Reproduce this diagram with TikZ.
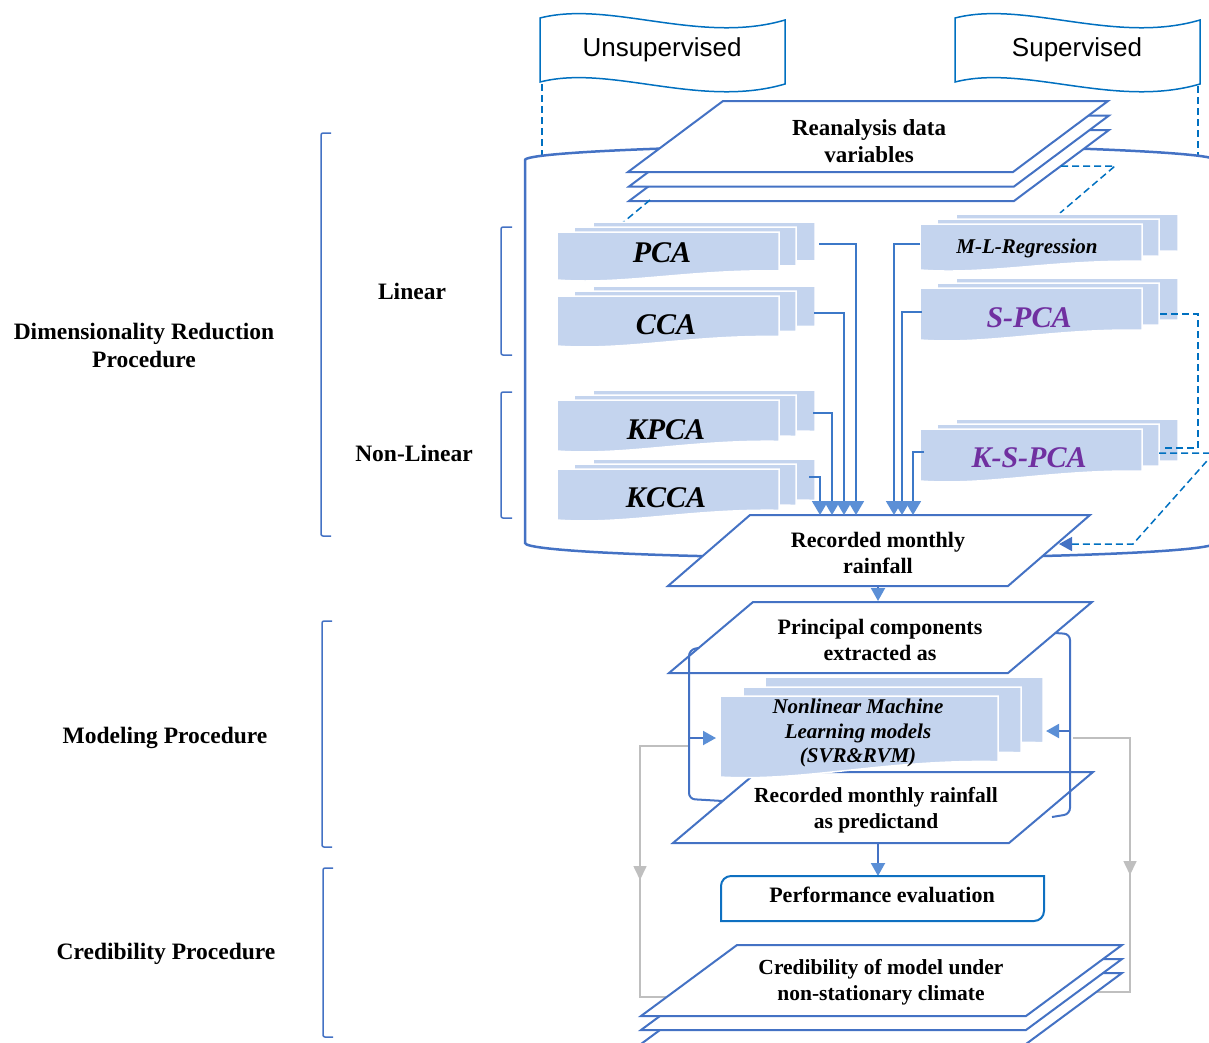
\documentclass[tikz,border=0pt]{standalone}
\usepackage{fontspec}
\setmainfont{Liberation Serif}
\newfontfamily\arialf{Liberation Sans}
\usetikzlibrary{arrows.meta}
\definecolor{pblue}{RGB}{68,114,196}
\definecolor{cblue}{RGB}{60,120,200}
\definecolor{ablue}{RGB}{91,143,214}
\definecolor{dblue}{RGB}{0,112,192}
\definecolor{docfill}{RGB}{196,212,238}
\definecolor{purp}{RGB}{112,48,160}
\definecolor{gline}{RGB}{191,191,191}
\tikzset{
  parastyle/.style={draw=pblue, fill=white, line width=2pt, line join=miter},
  docstyle/.style={fill=docfill, draw=white, line width=1.5pt},
  conn/.style={draw=cblue, line width=1.8pt, -{Triangle[length=14pt,width=16pt,color=ablue]}},
  connb/.style={draw=pblue, line width=2pt, -{Triangle[length=13pt,width=14pt,color=ablue]}},
  plainc/.style={draw=pblue, line width=2pt, rounded corners=6pt},
  dsh/.style={draw=dblue, line width=1.5pt, dash pattern=on 7pt off 4pt},
  gl/.style={draw=gline, line width=1.6pt},
  brk/.style={draw=pblue, line width=1.5pt, rounded corners=2pt},
  bannerst/.style={draw=dblue, fill=white, line width=1.5pt},
  bantext/.style={font=\arialf\fontsize{26}{30}\selectfont, inner sep=0},
  lbl/.style={font=\fontsize{23.5}{28}\selectfont\bfseries, align=center, inner sep=0},
  nt/.style={font=\fontsize{22}{25.5}\selectfont\bfseries, align=center, inner sep=0},
  nts/.style={font=\fontsize{21.5}{25.5}\selectfont\bfseries, align=center, inner sep=0},
  dt/.style={font=\fontsize{30}{34}\selectfont\bfseries\itshape, inner sep=0},
}
\newcommand\docsh[4]{\filldraw[docstyle] ({#1},{#2}) -- ({#1+#3},{#2}) -- ({#1+#3},{#2+0.81*#4}) .. controls ({#1+0.6*#3},{#2+0.78*#4}) and ({#1+0.3*#3},{#2+#4+5}) .. ({#1},{#2+#4}) -- cycle;}
\newcommand\docstack[4]{\docsh{#1+36}{#2-10}{#3}{#4}\docsh{#1+17}{#2-5}{#3}{#4}\docsh{#1}{#2}{#3}{#4}}
\newcommand\para[5]{\filldraw[parastyle] ({#1},{#2}) -- ({#1+#3},{#2}) -- ({#1+#3-#4},{#2+#5}) -- ({#1-#4},{#2+#5}) -- cycle;}
\begin{document}
\begin{tikzpicture}[x=1pt,y=-1pt]
\useasboundingbox (0,0) rectangle (1209,1042);
\begin{scope}
\clip (0,0) rectangle (1209,1042);
% banners
\filldraw[bannerst] (540,18) .. controls (610,0) and (700,45) .. (785,20) -- (785,84) .. controls (700,109) and (610,64) .. (540,82) -- cycle;
\node[bantext] (unsup) at (662,50) {Unsupervised};
\filldraw[bannerst] (955,18) .. controls (1025,0) and (1115,45) .. (1200,20) -- (1200,84) .. controls (1115,109) and (1025,64) .. (955,82) -- cycle;
\node[bantext] (sup) at (1077,50) {Supervised};
\coordinate (unsupB) at (542,84);
\coordinate (supB) at (1198,86);
\draw[dsh] (unsupB) -- (542,155);
\draw[dsh] (supB) -- (1198,156);
% cylinder
\draw[draw=pblue, line width=2.5pt] (1215,160) .. controls (1215,151.7) and (1024.5,145) .. (870,145) .. controls (715.5,145) and (525,151.7) .. (525,160) -- (525,543) .. controls (525,551.3) and (679.5,558) .. (870,558) .. controls (1060.5,558) and (1215,551.3) .. (1215,543);
% reanalysis stack
\para{724}{130}{385}{95}{71}
\para{724}{115.5}{385}{95}{71}
\para{723}{101}{385}{95}{71}
\node[nt, font=\fontsize{23}{27}\selectfont\bfseries] (rean) at (869,141) {Reanalysis data\\variables};
\coordinate (reanR) at (1061,166);
\coordinate (reanL) at (650,200);
\draw[dsh] (reanR) -- (1115,166) -- (1060,213);
\draw[dsh] (reanL) -- (620,225);
% recorded monthly rainfall
\para{750}{515}{340}{82}{71}
\node[nt] (rain) at (878,553) {Recorded monthly\\rainfall};
% doc stacks
\docstack{557}{232}{222}{48}
\docstack{557}{296}{222}{50}
\docstack{557}{400}{222}{51}
\docstack{557}{469}{222}{51}
\docstack{920}{224}{222}{46}
\docstack{920}{288}{222}{52}
\docstack{920}{429}{222}{52}
\node[dt] (pca) at (662,253) {PCA};
\node[dt] (cca) at (666,325) {CCA};
\node[dt] (kpca) at (666,430) {KPCA};
\node[dt] (kcca) at (666,498) {KCCA};
\node[dt, font=\fontsize{21}{24}\selectfont\bfseries\itshape] (mlr) at (1027,248) {M-L-Regression};
\node[dt, text=purp] (spca) at (1029,318) {S-PCA};
\node[dt, text=purp] (kspca) at (1029,458) {K-S-PCA};
% connectors into rainfall
\coordinate (pcaR) at (819,244);
\coordinate (ccaR) at (814,313);
\coordinate (kpcaR) at (813,413);
\coordinate (kccaR) at (809,477);
\coordinate (mlrL) at (920,244);
\coordinate (spcaL) at (922,312);
\coordinate (kspcaL) at (924,452);
\draw[conn] (pcaR) -- (856,244) -- (856,515);
\draw[conn] (ccaR) -- (844,313) -- (844,515);
\draw[conn] (kpcaR) -- (832,413) -- (832,515);
\draw[conn] (kccaR) -- (820,477) -- (820,515);
\draw[conn] (mlrL) -- (894,244) -- (894,515);
\draw[conn] (spcaL) -- (902,312) -- (902,515);
\draw[conn] (kspcaL) -- (913,452) -- (913,515);
% supervised dashed
\coordinate (spcaR) at (1160,314);
\coordinate (kspcaR) at (1159,453);
\draw[dsh] (spcaR) -- (1198,314) -- (1198,448) -- (1165,448);
\draw[dsh, -{Triangle[length=13pt,width=14pt,color=pblue]}] (kspcaR) -- (1214,453) -- (1133,544) -- (1059,544);
% rainfall -> principal
\draw[connb] (878,586) -- (878,601);
% principal / predictand
\para{753}{602}{339}{84}{71}
\node[nt] (prin) at (880,640) {Principal components\\extracted as};
\para{757}{772}{336}{84}{71}
\node[nts] (pred) at (876,810) {Recorded monthly rainfall\\as predictand};
% NL stack
\docsh{765}{677}{278}{81}
\docsh{743}{687}{278}{81}
\docsh{720}{696}{278}{81}
\node[nt, font=\fontsize{21}{24.5}\selectfont\bfseries\itshape] (nl) at (858,733) {Nonlinear Machine\\Learning models\\(SVR\&RVM)};
% brackets between principal and predictand
\draw[plainc] (698,648) -- (689,650) -- (689,799) -- (723,801);
\draw[plainc] (1055,633) -- (1070,634) -- (1070,814) -- (1052,817);
\draw[connb] (689,738) -- (716,738);
\draw[connb] (1070,731) -- (1046,731);
% gray feedback lines
\draw[gl] (688,746) -- (640,746) -- (640,997) -- (690,997);
\draw[gl, -{Triangle[length=14pt,width=13pt,color=gline]}] (640,850) -- (640,880);
\draw[gl] (1073,738) -- (1130,738) -- (1130,992) -- (1060,992);
\draw[gl, -{Triangle[length=14pt,width=13pt,color=gline]}] (1130,850) -- (1130,875);
% performance evaluation
\draw[connb] (878,843) -- (878,876);
\draw[draw=dblue!80!pblue, fill=white, line width=2pt] (721,921) -- (721,886) arc[start angle=180, end angle=270, radius=10] -- (1044,876) -- (1044,911) arc[start angle=0, end angle=90, radius=10] -- cycle;
\node[nt] (perf) at (882,895) {Performance evaluation};
% credibility stack
\para{737}{973}{385}{96}{71}
\para{737}{959}{385}{96}{71}
\para{737}{945}{385}{96}{71}
\node[nts] (cred) at (881,982) {Credibility of model under\\non-stationary climate};
% left brackets and labels
\draw[brk] (331,133) -- (321,133) -- (321,536) -- (331,536);
\draw[brk] (512,227) -- (501,227) -- (501,355) -- (512,355);
\draw[brk] (512,392) -- (501,392) -- (501,518) -- (512,518);
\draw[brk] (332,621) -- (322,621) -- (322,847) -- (332,847);
\draw[brk] (333,868) -- (323,868) -- (323,1037) -- (333,1037);
\node[lbl] (drp) at (144,345) {Dimensionality Reduction\\Procedure};
\node[lbl] (lin) at (412,291) {Linear};
\node[lbl] (nlin) at (414,453) {Non-Linear};
\node[lbl] (mod) at (165,738) {Modeling Procedure};
\node[lbl] (credp) at (166,954) {Credibility Procedure};
\end{scope}
\end{tikzpicture}
\end{document}
